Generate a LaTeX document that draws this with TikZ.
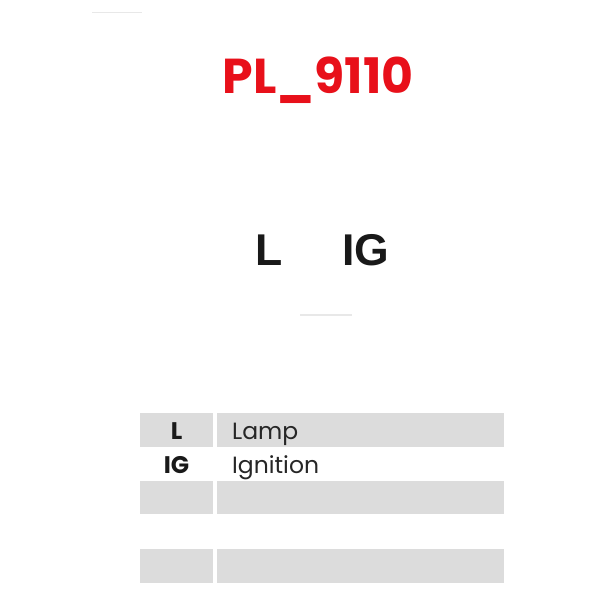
\documentclass[tikz,border=0pt]{standalone}
\usepackage{fontspec}
\setmainfont{Liberation Sans}
\newfontfamily\pop{Poppins}
\definecolor{titlered}{HTML}{E8101A}
\definecolor{cellgray}{HTML}{DCDCDC}
\definecolor{faint}{HTML}{E8E8E8}
\begin{document}
\begin{tikzpicture}[x=1pt,y=-1pt,
  cell/.style={fill=cellgray,draw=none},
  tabtxt/.style={inner sep=0pt,anchor=base west,font=\pop\fontsize{23.5}{23.5}\selectfont,text=black!85},
  tabkey/.style={inner sep=0pt,anchor=base,font=\pop\bfseries\fontsize{24}{24}\selectfont,text=black!90},
  pin/.style={inner sep=0pt,anchor=base west,font=\bfseries\fontsize{44.5}{44.5}\selectfont,text=black!90}]
\useasboundingbox (0,0) rectangle (600,600);
\fill[white] (0,0) rectangle (600,600);
% faint lines
\draw[faint,line width=1.2pt] (92,12.5) -- (142,12.5);
\draw[faint,line width=1.2pt] (300,315) -- (352,315);
% title
\node[inner sep=0pt,anchor=base,font=\pop\bfseries\fontsize{49}{49}\selectfont,text=titlered] (title) at (318,93) {PL\_9110};
% pins
\node[pin] (pL) at (255,265) {L};
\node[pin] (pIG) at (342,265) {IG};
% table
\fill[cell] (140,413) rectangle (213,447);
\fill[cell] (217,413) rectangle (504,447);
\fill[cell] (140,481) rectangle (213,514);
\fill[cell] (217,481) rectangle (504,514);
\fill[cell] (140,549) rectangle (213,583);
\fill[cell] (217,549) rectangle (504,583);
\node[tabkey] (kL) at (176.5,439) {L};
\node[tabtxt] (vL) at (232,439) {Lamp};
\node[tabkey] (kIG) at (176.5,473) {IG};
\node[tabtxt] (vIG) at (232,473) {Ignition};
\end{tikzpicture}
\end{document}
